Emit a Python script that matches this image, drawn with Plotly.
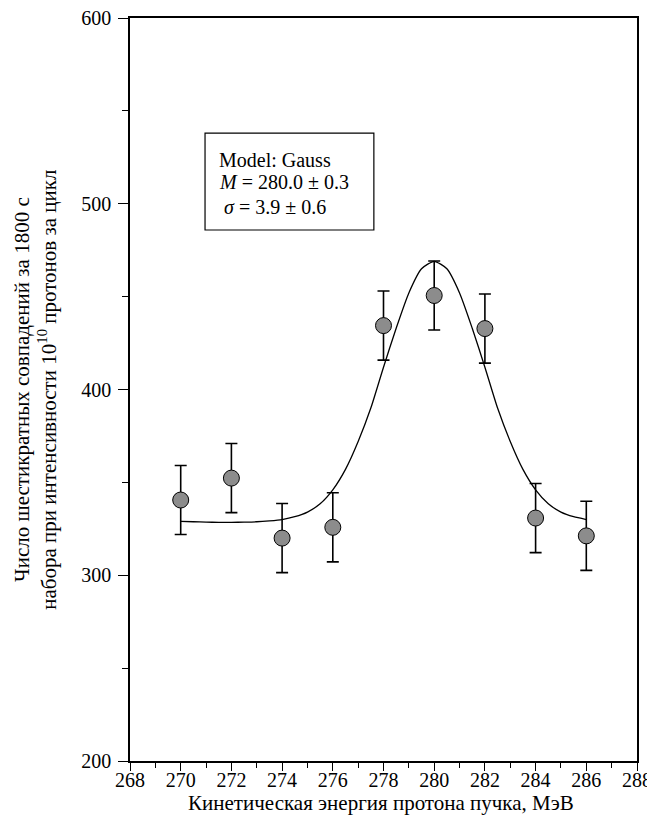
import plotly.graph_objects as go

# ---- data ----
energy = [270, 272, 274, 276, 278, 280, 282, 284, 286]
counts = [340.5, 352.3, 320.0, 325.8, 434.4, 450.6, 432.8, 330.8, 321.2]
errors = [18.6, 18.6, 18.6, 18.6, 18.6, 18.6, 18.6, 18.6, 18.6]

fit_x = [270, 270.5, 271, 271.5, 272, 272.5, 273, 273.5, 274, 274.5, 275, 275.5,
         276, 276.5, 277, 277.5, 278, 278.5, 279, 279.5, 280, 280.5, 281, 281.5,
         282, 282.5, 283, 283.5, 284, 284.5, 285, 285.5, 286]
fit_y = [329, 328.8, 328.6, 328.5, 328.5, 328.6, 328.8, 329.3, 330, 331.5, 334, 338.5,
         346, 357, 372, 390, 412, 433, 452, 465, 469, 465, 452, 433,
         412, 390, 372, 357, 346, 338.5, 334, 331.5, 330]

x_ticks = [268, 270, 272, 274, 276, 278, 280, 282, 284, 286, 288]
y_ticks = [200, 300, 400, 500, 600]

x_title = "Кинетическая энергия протона пучка, МэВ"
y_title_1 = "Число шестикратных совпадений за 1800 с"
y_title_2 = "набора при интенсивности 10<sup>10</sup> протонов за цикл"
box_lines = ["Model: Gauss", "<i>M</i> = 280.0 ± 0.3", " <i>σ</i> = 3.9 ± 0.6"]

FONT = "Liberation Serif, Times New Roman, serif"
TICKFONT = dict(family=FONT, size=20, color="black")

fig = go.Figure()

fig.add_trace(go.Scatter(
    x=fit_x, y=fit_y, mode="lines",
    line=dict(color="black", width=1.3, shape="spline", smoothing=0.6),
    showlegend=False, hoverinfo="skip"))

fig.add_trace(go.Scatter(
    x=energy, y=counts, mode="markers",
    marker=dict(size=16, color="#8c8c8c", line=dict(color="black", width=1)),
    error_y=dict(type="data", array=errors, visible=True,
                 color="black", thickness=1.6, width=6),
    showlegend=False))

# the page body adds an 8px offset; margins compensate for it
fig.update_layout(
    width=647, height=813,
    margin=dict(l=122, r=18, t=10, b=60, autoexpand=False),
    paper_bgcolor="white", plot_bgcolor="white",
    font=dict(family=FONT, size=20, color="black"),
    xaxis=dict(range=[268, 288], tickvals=x_ticks, ticks="outside", ticklen=8,
               tickwidth=1.3, tickcolor="black", showline=True, linewidth=1.5,
               linecolor="black", mirror=True, showgrid=False, zeroline=False,
               automargin=False, tickfont=TICKFONT, ticklabelstandoff=-8,
               ticklabeloverflow="allow",
               minor=dict(dtick=1, ticks="outside", ticklen=5, tickwidth=1.3,
                          tickcolor="black", showgrid=False)),
    yaxis=dict(range=[200, 600], tickvals=y_ticks, ticks="outside", ticklen=10,
               tickwidth=1.3, tickcolor="black", showline=True, linewidth=1.5,
               linecolor="black", mirror=True, showgrid=False, zeroline=False,
               automargin=False, tickfont=TICKFONT, ticklabelstandoff=3,
               ticklabeloverflow="allow",
               minor=dict(dtick=50, tick0=200, ticks="outside", ticklen=6, tickwidth=1.3,
                          tickcolor="black", showgrid=False)),
    xaxis2=dict(range=[268, 288], overlaying="x", side="top", anchor="y2",
                tickvals=x_ticks, ticks="inside", ticklen=8, tickwidth=1.3,
                tickcolor="black", showticklabels=False, showline=True,
                linecolor="black", linewidth=1.5,
                showgrid=False, zeroline=False, automargin=False,
                minor=dict(dtick=1, ticks="inside", ticklen=5, tickwidth=1.3,
                           tickcolor="black", showgrid=False)),
    yaxis2=dict(range=[200, 600], overlaying="y", side="right", anchor="x2",
                tickvals=y_ticks, ticks="inside", ticklen=10, tickwidth=1.3,
                tickcolor="black", showticklabels=False, showline=True,
                linecolor="black", linewidth=1.5,
                showgrid=False, zeroline=False, automargin=False,
                minor=dict(dtick=50, tick0=200, ticks="inside", ticklen=6, tickwidth=1.3,
                           tickcolor="black", showgrid=False)),
)

# x-axis title
fig.add_annotation(xref="paper", yref="paper", x=0.495, y=-0.0565,
                   text=x_title, showarrow=False, xanchor="center", yanchor="middle",
                   font=dict(family=FONT, size=21, color="black"))

# y-axis title (two lines, rotated)
fig.add_annotation(xref="paper", yref="paper", x=-0.187, y=0.5,
                   text=y_title_1 + "<br>" + y_title_2, textangle=-90,
                   showarrow=False, xanchor="center", yanchor="middle",
                   font=dict(family=FONT, size=21, color="black"))

# fit-parameter box
fig.add_shape(type="rect", xref="paper", yref="paper",
              x0=0.148, x1=0.481, y0=0.7147, y1=0.845,
              line=dict(color="black", width=1.2), fillcolor="white", layer="above")
for txt, yy in zip(box_lines, [0.809, 0.7793, 0.7456]):
    fig.add_annotation(xref="paper", yref="paper", x=0.171, y=yy, text=txt,
                       showarrow=False, xanchor="left", yanchor="middle",
                       font=dict(family=FONT, size=20, color="black"))

fig.write_html("out.html")
